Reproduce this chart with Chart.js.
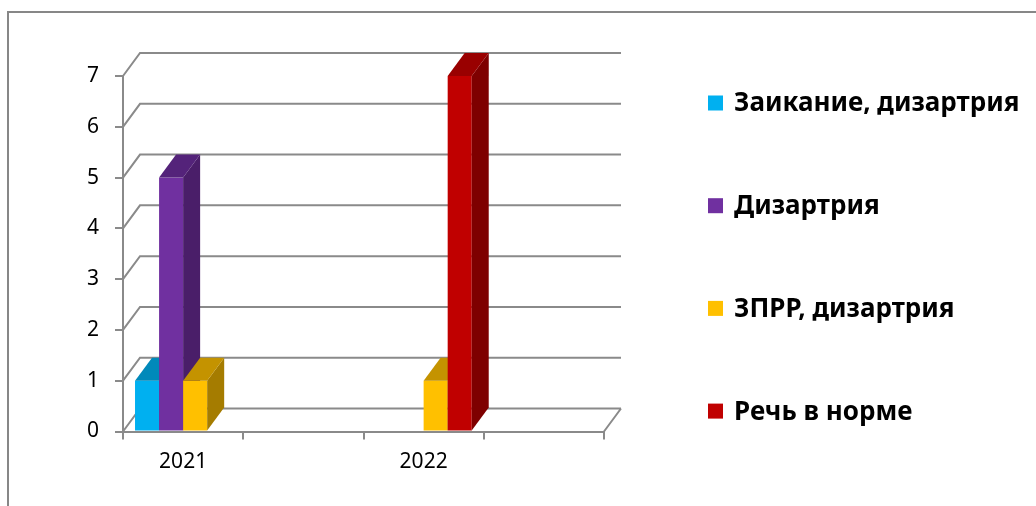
<!DOCTYPE html>
<html>
<head>
<meta charset="utf-8">
<script src="https://cdn.jsdelivr.net/npm/chart.js@4.4.1/dist/chart.umd.min.js"></script>
<style>
  html, body { margin: 0; padding: 0; background: #fff; width: 1036px; height: 506px; overflow: hidden; }
  .frame { position: absolute; left: 7px; top: 11px; width: 1100px; height: 600px; border: 2px solid #878787; }
  canvas { position: absolute; left: 0; top: 0; }
</style>
</head>
<body>
<div class="frame"></div>
<canvas id="c" width="1036" height="506"></canvas>
<script>
// ---------- data ----------
const years = ['2021', '', '2022', ''];           // 4 slots, labels on every other one
const seriesNames = ['Заикание, дизартрия', 'Дизартрия', 'ЗПРР, дизартрия', 'Речь в норме'];
const stutterDys = [1, null, 0, null];
const dysarthria = [5, null, 0, null];
const zprrDys    = [1, null, 1, null];
const speechOk   = [0, null, 7, null];
const yMax = 7;

// ---------- look ----------
const front = ['#00B0F0', '#7030A0', '#FFC000', '#C00000'];
const side  = ['#0083B3', '#4A1E69', '#A57C00', '#7E0000'];
const top3d = ['#0089BA', '#54237A', '#C49300', '#990000'];
const GRID = '#8a8a8a';
const DX = 17, DY = -23;                            // depth of the 3d box
const LEG = { x: 708, y: 103, step: 102.7, box: 15 };

// back wall grid, left side wall, floor edge
const wall3d = {
  id: 'wall3d',
  beforeDatasetsDraw(chart) {
    const { ctx, chartArea: a, scales: { y } } = chart;
    ctx.save();
    ctx.strokeStyle = GRID;
    ctx.lineWidth = 2;
    ctx.beginPath();
    y.ticks.forEach(t => {
      const py = y.getPixelForValue(t.value);
      ctx.moveTo(a.left, py);
      ctx.lineTo(a.left + DX, py + DY);
      ctx.lineTo(a.right + DX, py + DY);
    });
    ctx.moveTo(a.right, a.bottom);
    ctx.lineTo(a.right + DX, a.bottom + DY);
    ctx.stroke();
    ctx.restore();
  },
  // draw bars ourselves, slot by slot, so the faces overlap in the right order
  beforeDatasetDraw() { return false; },
  afterDatasetsDraw(chart) {
    const { ctx } = chart;
    const metas = chart.data.datasets.map((_, d) => chart.getDatasetMeta(d));
    years.forEach((_, i) => {
      metas.forEach((meta, d) => {
        const v = chart.data.datasets[d].data[i];
        if (!v) return;
        const el = meta.data[i];
        const x0 = el.x - el.width / 2, x1 = el.x + el.width / 2;
        const yt = el.y, yb = el.base;
        ctx.save();
        ctx.fillStyle = front[d];
        ctx.fillRect(x0, yt, x1 - x0, yb - yt);
        ctx.fillStyle = side[d];
        ctx.beginPath();
        ctx.moveTo(x1, yt); ctx.lineTo(x1 + DX, yt + DY);
        ctx.lineTo(x1 + DX, yb + DY); ctx.lineTo(x1, yb);
        ctx.closePath(); ctx.fill();
        ctx.fillStyle = top3d[d];
        ctx.beginPath();
        ctx.moveTo(x0, yt); ctx.lineTo(x1, yt);
        ctx.lineTo(x1 + DX, yt + DY); ctx.lineTo(x0 + DX, yt + DY);
        ctx.closePath(); ctx.fill();
        ctx.restore();
      });
    });
  }
};

// legend on the right, items spread like the Excel one
const sideLegend = {
  id: 'sideLegend',
  afterDraw(chart) {
    const { ctx } = chart;
    ctx.save();
    ctx.font = 'bold 26px "Noto Sans"';
    ctx.textBaseline = 'middle';
    chart.data.datasets.forEach((ds, i) => {
      const cy = LEG.y + i * LEG.step;
      ctx.fillStyle = ds.backgroundColor;
      ctx.fillRect(LEG.x, cy - LEG.box / 2, LEG.box, LEG.box);
      ctx.fillStyle = '#000';
      ctx.fillText(ds.label, LEG.x + 26, cy + 1);
    });
    ctx.restore();
  }
};

const seriesData = [stutterDys, dysarthria, zprrDys, speechOk];

new Chart(document.getElementById('c'), {
  type: 'bar',
  data: {
    labels: years,
    datasets: seriesData.map((data, d) => ({
      label: seriesNames[d],
      data,
      backgroundColor: front[d],
      borderWidth: 0,
      categoryPercentage: 0.8,
      barPercentage: 1
    }))
  },
  options: {
    responsive: false,
    animation: false,
    layout: { padding: { top: 76, right: 432, bottom: 0, left: 0 } },
    plugins: { legend: { display: false }, tooltip: { enabled: false } },
    scales: {
      x: {
        afterFit: s => { s.height = 74.5; },
        grid: { offset: true, drawOnChartArea: false, tickLength: 8, color: GRID, lineWidth: 2 },
        border: { color: GRID, width: 2 },
        ticks: { color: '#000', padding: 10, autoSkip: false, maxRotation: 0,
                 font: { family: '"Noto Sans"', size: 21 } }
      },
      y: {
        min: 0, max: yMax,
        afterFit: s => { s.width = 123; },
        grid: { drawOnChartArea: false, tickLength: 8, color: GRID, lineWidth: 2 },
        border: { color: GRID, width: 2 },
        ticks: { stepSize: 1, color: '#000', padding: 16,
                 font: { family: '"Noto Sans"', size: 21 } }
      }
    }
  },
  plugins: [wall3d, sideLegend]
});
</script>
</body>
</html>
